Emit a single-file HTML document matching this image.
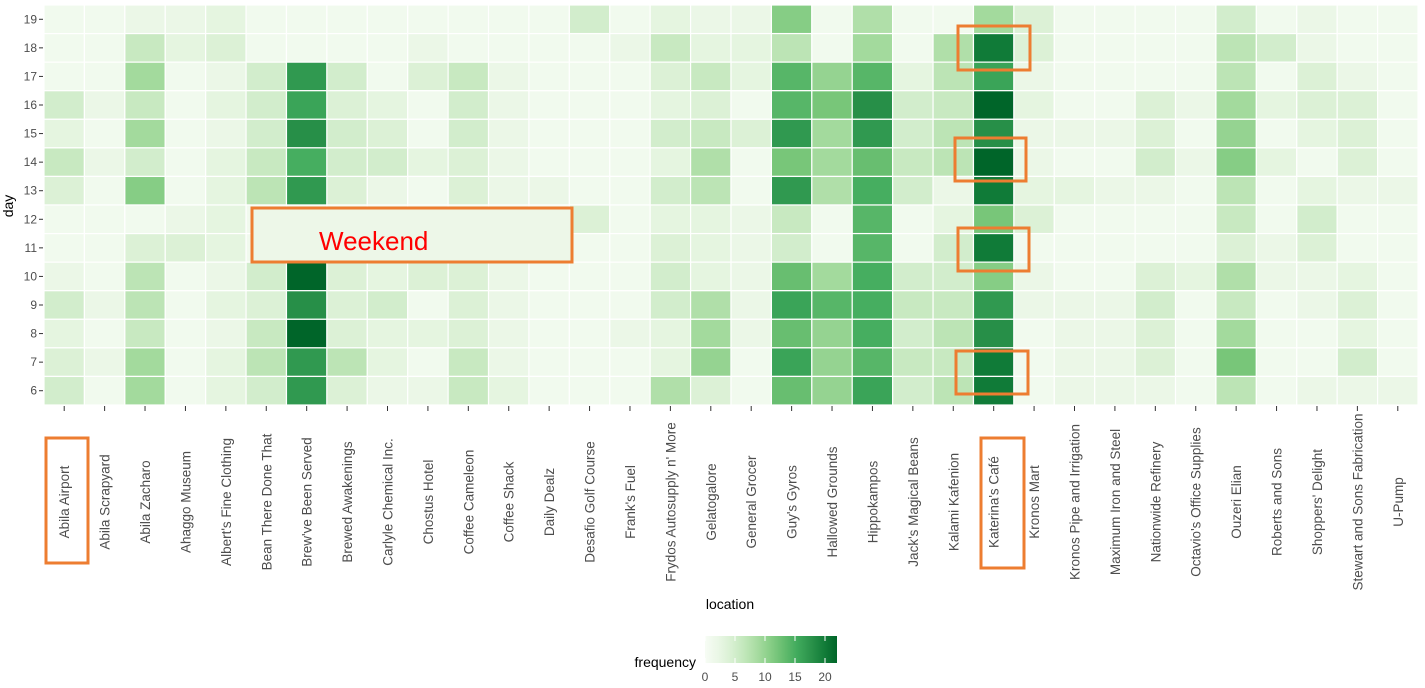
<!DOCTYPE html>
<html><head><meta charset="utf-8"><style>
body{margin:0;background:#fff;}
svg{display:block;font-family:"Liberation Sans",sans-serif;}
</style></head><body>
<svg id="chart" width="1425" height="688"></svg>
<script>
const locations=["Abila Airport","Abila Scrapyard","Abila Zacharo","Ahaggo Museum","Albert's Fine Clothing","Bean There Done That","Brew've Been Served","Brewed Awakenings","Carlyle Chemical Inc.","Chostus Hotel","Coffee Cameleon","Coffee Shack","Daily Dealz","Desafio Golf Course","Frank's Fuel","Frydos Autosupply n' More","Gelatogalore","General Grocer","Guy's Gyros","Hallowed Grounds","Hippokampos","Jack's Magical Beans","Kalami Kafenion","Katerina's Café","Kronos Mart","Kronos Pipe and Irrigation","Maximum Iron and Steel","Nationwide Refinery","Octavio's Office Supplies","Ouzeri Elian","Roberts and Sons","Shoppers' Delight","Stewart and Sons Fabrication","U-Pump"];
const days=[19,18,17,16,15,14,13,12,11,10,9,8,7,6];
const freq=[
[1,1,1,5,3,6,4,1,1,2,5,3,4,5],
[1,1,1,2,1,2,1,1,1,1,2,1,2,1],
[2,6,9,6,9,5,11,1,4,7,7,6,9,9],
[2,3,1,1,1,1,1,2,4,1,1,1,1,1],
[3,4,2,3,2,3,3,3,3,2,3,2,3,3],
[1,1,5,5,5,6,7,1,1,5,4,6,7,5],
[1,1,17,16,18,15,17,1,1,22,18,22,17,17],
[1,1,5,4,5,5,4,1,1,4,4,4,7,4],
[1,1,1,3,4,5,2,1,1,3,5,3,3,2],
[1,2,4,1,1,3,1,1,1,4,1,3,1,2],
[1,1,6,5,5,4,4,1,1,4,4,4,6,6],
[1,1,2,2,2,2,2,1,1,2,2,2,2,3],
[1,1,1,1,1,1,2,1,1,1,1,1,1,1],
[5,1,1,1,1,1,1,4,1,1,1,1,1,1],
[1,2,1,1,1,1,1,1,1,1,1,2,1,1],
[3,6,4,3,5,3,5,3,4,5,5,3,3,8],
[2,3,6,4,6,8,7,3,3,3,8,9,10,4],
[2,3,3,1,4,1,1,2,2,2,2,2,1,1],
[11,7,14,14,17,12,17,6,5,13,16,13,16,13],
[1,1,10,12,9,9,8,1,1,9,14,10,10,10],
[8,9,14,18,17,13,15,14,14,15,15,15,14,16],
[1,1,3,5,5,6,5,1,1,5,6,5,6,5],
[1,8,7,6,7,7,2,3,5,5,6,7,6,7],
[9,20,16,22,18,22,20,12,20,11,17,18,20,20],
[4,4,2,3,2,2,3,4,1,2,2,1,1,1],
[1,1,1,1,2,1,3,1,1,1,2,2,2,2],
[1,1,1,1,2,1,2,1,1,1,2,2,2,2],
[1,1,1,4,4,5,2,1,1,4,5,4,4,2],
[1,1,1,2,1,2,1,1,1,3,1,1,1,1],
[5,7,7,9,10,11,7,6,4,8,6,9,12,7],
[1,5,1,3,1,3,1,1,2,2,1,1,1,1],
[2,2,4,4,3,1,3,5,4,2,2,1,1,2],
[1,1,2,4,4,4,2,1,1,3,4,3,5,2],
[1,1,1,1,1,1,2,1,1,1,1,1,1,2]];
const legendTicks=[0,5,10,15,20];
const NS="http://www.w3.org/2000/svg";
const svg=document.getElementById('chart');
function mk(t,a,p){const e=document.createElementNS(NS,t);for(const k in a)e.setAttribute(k,a[k]);(p||svg).appendChild(e);return e;}
const pal=["#f7fcf5","#e5f5e0","#c7e9c0","#a1d99b","#74c476","#41ab5d","#238b45","#006d2c","#00441b"];
const vmax=22, cmax=24.5;
function hex(c){return [1,3,5].map(i=>parseInt(c.substr(i,2),16));}
function color(v){let t=Math.max(0,Math.min(1,v/cmax))*(pal.length-1);let i=Math.min(pal.length-2,Math.floor(t));let f=t-i;const a=hex(pal[i]),b=hex(pal[i+1]);return "rgb("+a.map((x,k)=>Math.round(x+(b[k]-x)*f)).join(",")+")";}
const X0=44,X1=1418,Y0=5,Y1=405;
const cw=(X1-X0)/locations.length, ch=(Y1-Y0)/days.length;
const xPos=i=>X0+i*cw, yPos=j=>Y0+j*ch;
const g=mk('g',{});


freq.forEach((col,i)=>col.forEach((v,j)=>{
 const r=mk('rect',{x:xPos(i),y:yPos(j),width:cw,height:ch,fill:color(v),stroke:'#fff','stroke-width':1.2},g);
 
 
}));
days.forEach((d,j)=>{
 const y=yPos(j)+ch/2;
 mk('line',{x1:39,x2:43,y1:y,y2:y,stroke:'#333'});
 const t=mk('text',{x:37,y:y+4,'text-anchor':'end','font-size':12,fill:'#4d4d4d'});t.textContent=d;
 
 
});
locations.forEach((l,i)=>{
 const x=xPos(i)+cw/2;
 mk('line',{x1:x,x2:x,y1:406,y2:411,stroke:'#333'});
 const t=mk('text',{x:0,y:0,'text-anchor':'middle','font-size':13.5,fill:'#4d4d4d',transform:`translate(${x+5},502) rotate(-90)`});t.textContent=l;
 
 
});
let t=mk('text',{x:0,y:0,'text-anchor':'middle','font-size':14,fill:'#000',transform:'translate(13,206) rotate(-90)'});t.textContent='day';

t=mk('text',{x:730,y:609,'text-anchor':'middle','font-size':14,fill:'#000'});t.textContent='location';

const defs=mk('defs',{});const lg=mk('linearGradient',{id:'lg',x1:0,x2:1,y1:0,y2:0},defs);
for(let k=0;k<=10;k++){mk('stop',{offset:k/10,'stop-color':color(k/10*vmax)},lg);}
const LX0=705,LX1=837;
const lx=v=>LX0+v/vmax*(LX1-LX0);
const lb=mk('rect',{x:LX0,y:636,width:LX1-LX0,height:27,fill:'url(#lg)'});

legendTicks.forEach(v=>{
 mk('line',{x1:lx(v),x2:lx(v),y1:636,y2:641,stroke:'#fff'});mk('line',{x1:lx(v),x2:lx(v),y1:658,y2:663,stroke:'#fff'});
 const tt=mk('text',{x:lx(v),y:681,'text-anchor':'middle','font-size':12,fill:'#4d4d4d'});tt.textContent=v;
 
});
t=mk('text',{x:696,y:667,'text-anchor':'end','font-size':14,fill:'#000'});t.textContent='frequency';

const boxes=[[46,438,42,125,'airport-label-box'],[981,438,43,130,'katerina-label-box'],[252,208,320,54,'weekend-box'],[958,26,72,44,'katerina-day18-box'],[955,138,71,43,'katerina-day14-box'],[958,228,71,43,'katerina-day11-box'],[956,351,72,43,'katerina-day7-box']];
boxes.forEach(b=>{const r=mk('rect',{x:b[0],y:b[1],width:b[2],height:b[3],fill:b[4]=='weekend-box'?'#edf7e8':'none',stroke:'#ed7d31','stroke-width':3});
 });
t=mk('text',{x:319,y:250,'font-size':26,fill:'#ff0000'});t.textContent='Weekend';

</script>
</body></html>
